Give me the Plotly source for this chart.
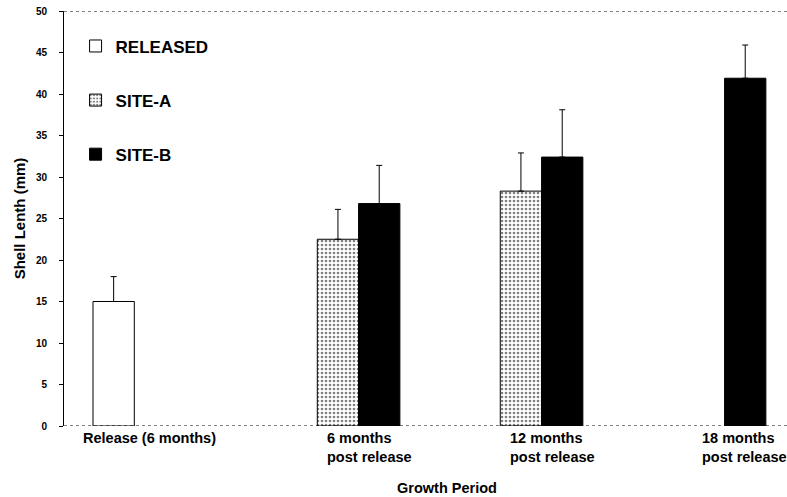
import plotly.graph_objects as go

# Growth periods (x positions 0..3) and their axis labels
periods = [0, 1, 2, 3]
period_labels = ["Release (6 months)", "6 months<br>post release",
                 "12 months<br>post release", "18 months<br>post release"]

# Mean shell length (mm) per group, None where not measured
released_mean = [15.0, None, None, None]
site_a_mean = [None, 22.5, 28.3, None]
site_b_mean = [None, 26.8, 32.4, 41.9]

# Upper error (SD, mm)
released_err = [3.0, 0, 0, 0]
site_a_err = [0, 3.6, 4.6, 0]
site_b_err = [0, 4.6, 5.7, 4.0]

y_ticks = [0, 5, 10, 15, 20, 25, 30, 35, 40, 45, 50]

FONT = "Liberation Sans, Arial, sans-serif"


def err(vals):
    return dict(type="data", symmetric=False, array=vals,
                arrayminus=[0] * len(vals), color="black",
                thickness=1, width=3)


fig = go.Figure()
fig.add_trace(go.Bar(
    x=periods, y=released_mean, name="RELEASED", legendgroup="r",
    marker=dict(color="white", line=dict(color="black", width=1)),
    error_y=err(released_err)))
fig.add_trace(go.Bar(
    x=periods, y=site_a_mean, name="SITE-A", legendgroup="a",
    marker=dict(color="white", line=dict(color="black", width=1),
                pattern=dict(shape=".", fgcolor="black", bgcolor="white",
                             size=4, solidity=0.35)),
    error_y=err(site_a_err)))
fig.add_trace(go.Bar(
    x=periods, y=site_b_mean, name="SITE-B", legendgroup="b",
    marker=dict(color="black", line=dict(color="black", width=1)),
    error_y=err(site_b_err)))

# Category labels beneath the axis
label_x = [-0.03, 0.93, 1.93, 2.98]
label_anchor = ["center", "left", "left", "left"]
for xv, txt, anc in zip(label_x, period_labels, label_anchor):
    fig.add_annotation(x=xv, y=0, xref="x", yref="y", yshift=-2,
                       text="<b>%s</b>" % txt, showarrow=False,
                       xanchor=anc, yanchor="top", align="left",
                       font=dict(family=FONT, size=14.5, color="black"))

fig.add_annotation(x=(447 - 64) / 723, y=(426 - 488) / 415,
                   xref="paper", yref="paper",
                   text="<b>Growth Period</b>", showarrow=False,
                   xanchor="center", yanchor="middle",
                   font=dict(family=FONT, size=14.5, color="black"))

# Dotted baseline and top frame line
for yv in (0, 50):
    fig.add_shape(type="line", xref="paper", yref="y", x0=0, x1=1,
                  y0=yv, y1=yv, line=dict(color="black", width=1, dash="dot"))

fig.update_layout(
    width=787, height=497,
    margin=dict(l=64, r=0, t=11, b=71),
    paper_bgcolor="white", plot_bgcolor="white",
    barmode="group", bargap=0.323, bargroupgap=0,
    showlegend=True,
    legend=dict(x=0.016, y=0.958, xanchor="left", yanchor="top",
                traceorder="grouped", tracegroupgap=29,
                bgcolor="rgba(0,0,0,0)",
                font=dict(family=FONT, size=17, color="black", weight="bold")),
    xaxis=dict(range=[-0.497, 3.454], showticklabels=False, ticks="",
               showgrid=False, zeroline=False, showline=False),
    yaxis=dict(range=[0, 50], tickvals=y_ticks, showgrid=False,
               zeroline=False, showline=True, linecolor="black", linewidth=1,
               ticks="outside", ticklen=4, tickcolor="black",
               ticklabelstandoff=10,
               tickfont=dict(family=FONT, size=10, color="black", weight="bold"),
               title=dict(text="<b>Shell Lenth (mm)</b>", standoff=6,
                          font=dict(family=FONT, size=15, color="black"))),
)

fig.write_html("out.html")
